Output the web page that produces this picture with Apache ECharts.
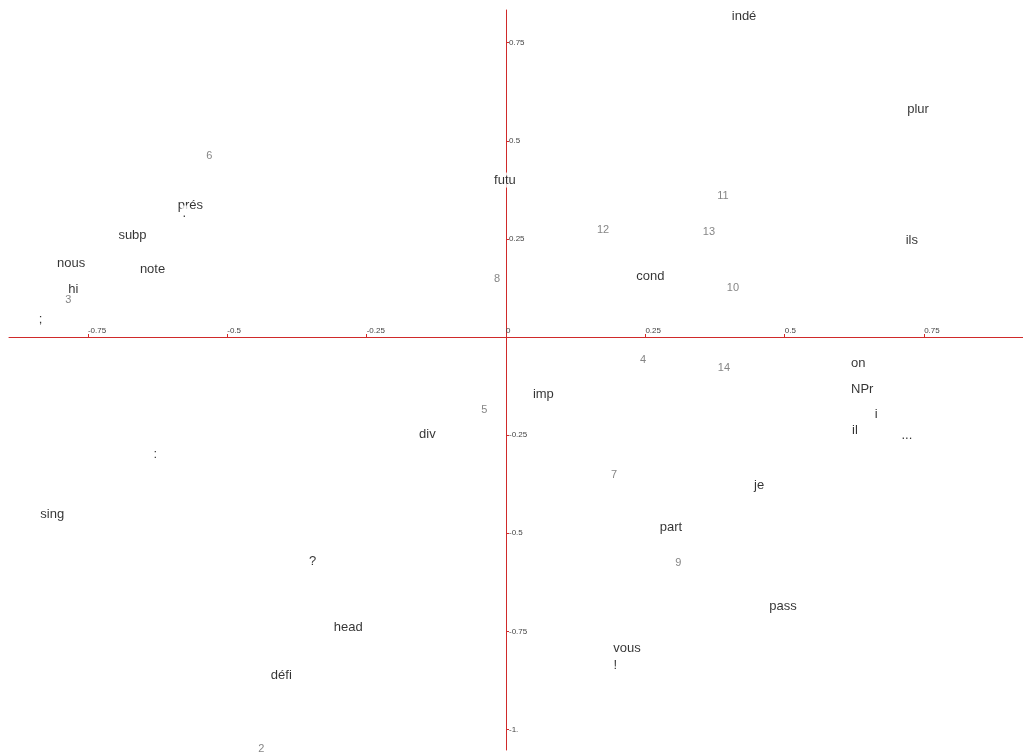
<!DOCTYPE html>
<html>
<head>
<meta charset="utf-8">
<script src="https://cdn.jsdelivr.net/npm/echarts@6/dist/echarts.min.js"></script>
<style>
  html, body { margin: 0; padding: 0; background: #fff; }
  #chart { width: 1023px; height: 755px; }
</style>
</head>
<body>
<div id="chart"></div>
<script>
  // word labels (categories) and their coordinates
  var wordNames = ['indé', 'plur', 'futu', 'prés', '.', 'subp', 'nous', 'note', 'hi', ';',
    'cond', 'ils', 'on', 'NPr', 'i', 'il', '...', 'imp', 'div', ':',
    'sing', '?', 'head', 'défi', 'je', 'part', 'pass', 'vous', '!'];
  var wordX = [0.427, 0.739, -0.002, -0.566, -0.577, -0.670, -0.780, -0.634, -0.776, -0.835,
    0.259, 0.728, 0.632, 0.639, 0.664, 0.626, 0.719, 0.067, -0.141, -0.629,
    -0.814, -0.347, -0.283, -0.403, 0.454, 0.296, 0.497, 0.217, 0.196];
  var wordY = [0.816, 0.581, 0.400, 0.336, 0.316, 0.260, 0.188, 0.173, 0.122, 0.045,
    0.155, 0.247, -0.067, -0.133, -0.197, -0.238, -0.250, -0.146, -0.248, -0.299,
    -0.452, -0.572, -0.740, -0.863, -0.378, -0.485, -0.687, -0.794, -0.837];

  // numbered points
  var numNames = ['6', '3', '8', '12', '13', '11', '10', '4', '14', '5', '7', '9', '2'];
  var numX = [-0.532, -0.785, -0.016, 0.174, 0.364, 0.389, 0.407, 0.246, 0.391, -0.039, 0.194, 0.309, -0.439];
  var numY = [0.462, 0.095, 0.149, 0.274, 0.268, 0.360, 0.126, -0.058, -0.079, -0.186, -0.351, -0.576, -1.050];

  var tickValues = [-1, -0.75, -0.5, -0.25, 0, 0.25, 0.5, 0.75];

  function makeData(names, xs, ys) {
    return names.map(function (n, i) { return { name: n, value: [xs[i], ys[i]] }; });
  }

  function tickText(v) {
    if (v === 0) return '0';
    if (v === -1) return '-1.';
    return String(v);
  }

  var axisRed = '#d02a2a';
  var gridLeft = 9, gridTop = 10, gridBottom = 5;
  var plotW = 1023 - gridLeft, plotH = 755 - gridTop - gridBottom;
  // origin sits at 497px from the left and 327px from the top of the plot
  var xScale = 557.5, yScale = 392.4;
  var xMin = -497 / xScale, xMax = (plotW - 497) / xScale;
  var yMax = 327 / yScale, yMin = -(plotH - 327) / yScale;

  var myChart = echarts.init(document.getElementById('chart'));
  myChart.setOption({
    animation: false,
    grid: { left: gridLeft, right: 0, top: gridTop, bottom: gridBottom, containLabel: false, outerBoundsMode: 'none' },
    xAxis: {
      type: 'value',
      position: 'bottom',
      offset: -(plotH - 327),
      min: xMin,
      max: xMax,
      splitLine: { show: false },
      axisLine: { show: true, onZero: false, lineStyle: { color: axisRed, width: 1 } },
      axisTick: { show: true, inside: true, length: 3, customValues: tickValues, lineStyle: { color: axisRed } },
      axisLabel: {
        inside: true, margin: 2, customValues: tickValues.filter(function (v) { return v > -0.89; }),
        align: 'left', fontSize: 8, color: '#444', fontFamily: 'Liberation Sans, Arial',
        formatter: tickText
      }
    },
    yAxis: {
      type: 'value',
      position: 'left',
      offset: -497,
      min: yMin,
      max: yMax,
      splitLine: { show: false },
      axisLine: { show: true, onZero: false, lineStyle: { color: axisRed, width: 1 } },
      axisTick: { show: true, inside: true, length: 3, customValues: tickValues, lineStyle: { color: axisRed } },
      axisLabel: {
        inside: true, margin: 3, customValues: tickValues.filter(function (v) { return v !== 0; }),
        fontSize: 8, color: '#444', fontFamily: 'Liberation Sans, Arial',
        formatter: tickText
      }
    },
    series: [
      {
        name: 'words',
        type: 'scatter',
        symbolSize: 0,
        z: 5,
        data: makeData(wordNames, wordX, wordY),
        label: {
          show: true, position: 'inside', formatter: '{b}',
          fontSize: 13, color: '#000', fontFamily: 'Liberation Sans, Arial',
          backgroundColor: '#fff', padding: [1, 1]
        }
      },
      {
        name: 'numbers',
        type: 'scatter',
        symbolSize: 0,
        z: 5,
        data: makeData(numNames, numX, numY),
        label: {
          show: true, position: 'inside', formatter: '{b}',
          fontSize: 11, color: '#666', fontFamily: 'Liberation Sans, Arial',
          backgroundColor: '#fff', padding: [1, 1]
        }
      }
    ]
  });
</script>
</body>
</html>
